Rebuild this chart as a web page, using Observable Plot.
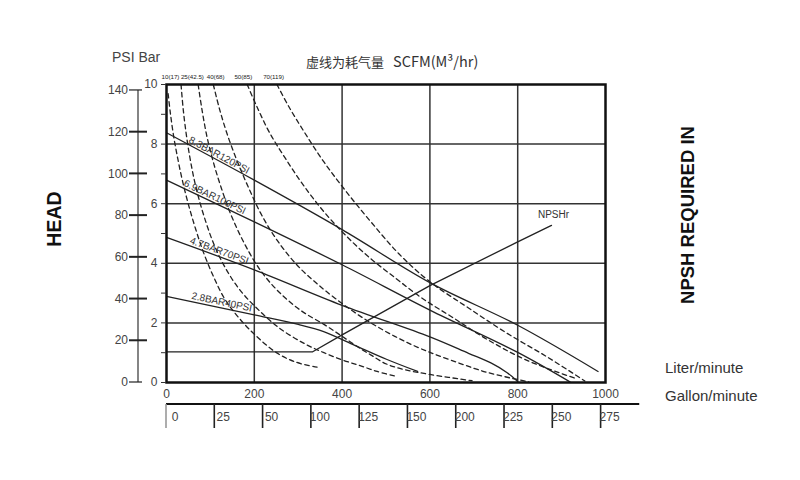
<!DOCTYPE html>
<html><head><meta charset="utf-8">
<script src="https://cdn.jsdelivr.net/npm/d3@7"></script>
<script src="https://cdn.jsdelivr.net/npm/@observablehq/plot@0.6"></script>
<style>
body{margin:0;background:#fff;}
#wrap{position:relative;width:800px;height:480px;font-family:"Liberation Sans",Arial,sans-serif;color:#333;overflow:hidden;}
.t{position:absolute;white-space:nowrap;line-height:1;}
.rot{transform:translate(-50%,-50%) rotate(-90deg);font-weight:bold;color:#111;}
</style></head><body>
<div id="wrap">
  <div class="t" style="left:112px;top:50px;font-size:14px;color:#444;">PSI Bar</div>
  <div class="t" style="left:306px;top:54px;color:#333;"><span style="font-family:'Noto Sans CJK SC';font-size:13px;">虚线为耗气量</span><span style="font-family:'Noto Sans CJK SC';font-size:14.5px;margin-left:9px;">SCFM(M³/hr)</span></div>
  <div class="t rot" style="left:55px;top:219px;font-size:19.5px;">HEAD</div>
  <div class="t rot" style="left:688px;top:215px;font-size:18.5px;">NPSH REQUIRED IN</div>
  <div class="t" style="left:665px;top:360px;font-size:15px;color:#333;">Liter/minute</div>
  <div class="t" style="left:665px;top:388px;font-size:15px;color:#333;">Gallon/minute</div>
  <div id="chart" style="position:absolute;left:0;top:0;"></div>
</div>
<script>
// ---- data (x: liter/minute, y: bar) ----
const xTicks = [0, 200, 400, 600, 800, 1000];
const yTicks = [0, 1, 2, 3, 4, 5, 6, 7, 8, 9, 10];
const psiTicks = [0, 20, 40, 60, 80, 100, 120, 140];
const gallonLabels = ["0", "25", "50", "100", "125", "150", "200", "225", "250", "275"];
const scfmLabels = ["10(17)", "25(42.5)", "40(68)", "50(85)", "70(119)"];
const scfmTickX = [9, 59, 112, 175, 244];
const pressureNames = ["8.3BAR120PSI", "6.9BAR100PSI", "4.7BAR70PSI", "2.8BAR40PSI"];

const psi120 = [[0,8.38],[200,6.79],[400,5.13],[600,3.35],[800,1.92],[983,0.37]];
const psi100 = [[0,6.79],[200,5.39],[400,3.95],[600,2.43],[800,1.01],[919,0.02]];
const psi70  = [[0,4.87],[200,3.78],[400,2.59],[600,1.53],[688,0.98],[740,0.65],[776,0.33],[800,0.03]];
const psi40  = [[0,2.89],[200,2.27],[300,1.95],[358,1.71],[430,1.24],[501,0.78],[572,0.37]];
const npshr  = [[0,1.03],[333,1.03],[400,1.6],[600,3.25],[800,4.72],[877,5.27]];

const air1 = [[3.7,9.69],[8.8,9.04],[16.2,8.27],[25.7,7.51],[36.8,6.74],[50,5.97],[66.2,5.16],[84.6,4.35],[106.6,3.57],[132.4,2.81],[165.4,2.16],[205.8,1.54],[249.5,1.01],[293.2,0.69],[344.1,0.51]];
const air2 = [[33.1,10],[38.2,9.15],[45.6,8.27],[55.1,7.4],[67.6,6.52],[84.6,5.62],[106.6,4.69],[132.4,3.89],[165.4,3.14],[205.8,2.49],[256.7,1.83],[314.9,1.3],[358.6,1.0],[402,0.75],[444,0.55],[480,0.37],[519,0.22]];
const air3 = [[72.1,10],[80.9,9.15],[91.9,8.27],[106.6,7.4],[125,6.52],[147.1,5.62],[176.5,4.69],[213.1,3.78],[256.7,3.03],[307.6,2.4],[358.6,1.95],[395,1.6],[430,1.25],[466,0.92],[501,0.62],[543,0.43],[600,0.27],[696,0.06]];
const air4 = [[106.6,10],[121.3,9.15],[139.7,8.27],[161.8,7.4],[187.5,6.52],[216.7,5.62],[253.1,4.75],[296.7,3.95],[344,3.3],[400,2.65],[460,2.05],[520,1.55],[580,1.13],[648,0.75],[728,0.35],[825,0.02]];
const air5 = [[183.8,10],[205.8,9.26],[234.9,8.38],[271.3,7.51],[311.3,6.63],[358.6,5.73],[409.2,4.92],[465.7,4.15],[522,3.5],[580,2.85],[650,2.2],[730,1.45],[820,0.75],[935,0.12]];
const air6 = [[251.6,10],[278.5,9.26],[314.9,8.38],[358.6,7.4],[409.2,6.41],[465.7,5.39],[529.3,4.32],[600,3.38],[688,2.5],[776,1.65],[868,0.85],[953,0.05]];

const PSI_TO_BAR = 0.07;

// ---- tables built from the arrays ----
const solidSeries = [psi120, psi100, psi70, psi40];
const solidRows = solidSeries.flatMap((s, i) => s.map(([x, y]) => ({x, y, name: pressureNames[i]})));
const airSeries = [air1, air2, air3, air4, air5, air6];
const airRows = airSeries.flatMap((s, i) => s.map(([x, y]) => ({x, y, name: "air" + i})));
const npshRows = npshr.map(([x, y]) => ({x, y}));

// label placement along each pressure line (position along the line in liter/minute)
const labelAt = [120, 110, 120, 126];
function interp(s, x) {
  for (let i = 1; i < s.length; i++) {
    if (x <= s[i][0]) { const [x0,y0] = s[i-1], [x1,y1] = s[i]; return y0 + (y1-y0)*(x-x0)/(x1-x0); }
  }
  return s[s.length-1][1];
}
const lineLabels = pressureNames.map((n, i) => {
  const s = solidSeries[i], x = labelAt[i];
  const slope = (interp(s, x + 20) - interp(s, x - 20)) / 40; // bar per liter
  return {name: n, x, y: interp(s, x), slope};
});

const W = 800, H = 480, mL = 166, mR = 195, mT = 84, mB = 98;
const pxPerX = (W - mL - mR) / 1000, pxPerY = (H - mT - mB) / 10;
lineLabels.forEach(d => { d.angle = Math.atan(-d.slope * pxPerY / pxPerX) * 180 / Math.PI; });

const plot = Plot.plot({
  width: W, height: H,
  marginLeft: mL, marginRight: mR, marginTop: mT, marginBottom: mB,
  style: {fontFamily: "Liberation Sans, Arial, sans-serif", fontSize: "12px", color: "#444", background: "transparent", overflow: "visible"},
  x: {domain: [0, 1000], label: null},
  y: {domain: [0, 10], label: null},
  marks: [
    Plot.gridX([200, 400, 600, 800], {stroke: "#333", strokeOpacity: 1, strokeWidth: 1.5}),
    Plot.gridY([2, 4, 6, 8], {stroke: "#333", strokeOpacity: 1, strokeWidth: 1.5}),
    Plot.line(airRows, {x: "x", y: "y", z: "name", stroke: "#222", strokeWidth: 1.3, strokeDasharray: "4.5,3.5", curve: "catmull-rom"}),
    Plot.line(solidRows, {x: "x", y: "y", z: "name", stroke: "#222", strokeWidth: 1.3, curve: "catmull-rom"}),
    Plot.line(npshRows, {x: "x", y: "y", stroke: "#222", strokeWidth: 1.3}),
    Plot.text(lineLabels, {x: "x", y: "y", text: "name", rotate: "angle", dy: -6, fontSize: 10, fill: "#333"}),
    Plot.text([npshRows[npshRows.length - 1]], {x: "x", y: "y", text: () => "NPSHr", dx: 2, dy: -11, fontSize: 10, fill: "#333"}),
    Plot.frame({stroke: "#111", strokeWidth: 2.5}),
    Plot.axisY(yTicks, {tickSize: 5, tickPadding: 4, tickFormat: d => d % 2 === 0 ? String(d) : "", fontSize: 12, stroke: "#333", label: null}),
    Plot.axisX(xTicks, {tickSize: 0, tickPadding: 7, tickFormat: d => String(d), fontSize: 12, label: null}),
    Plot.axisX(scfmTickX, {anchor: "top", tickSize: 0, tickPadding: 6, tickFormat: (d, i) => scfmLabels[i], fontSize: 6.2, letterSpacing: "-0.5px", fill: "#222", label: null})
  ]
});
document.getElementById("chart").appendChild(plot);

// ---- secondary scales drawn through Plot's own scales ----
const sx = plot.scale("x"), sy = plot.scale("y");
const svg = d3.select(plot);
// PSI axis (left of the bar axis)
const psiAxisX = mL - 28;
const gp = svg.append("g");
gp.append("line").attr("x1", psiAxisX).attr("x2", psiAxisX)
  .attr("y1", sy.apply(0)).attr("y2", sy.apply(psiTicks[psiTicks.length-1] * PSI_TO_BAR))
  .attr("stroke", "#333").attr("stroke-width", 1.2);
psiTicks.forEach(p => {
  const yy = sy.apply(p * PSI_TO_BAR);
  const end = p === 0 || p === 140;
  gp.append("line").attr("x1", psiAxisX - 9).attr("x2", psiAxisX + (end ? 4 : 9))
    .attr("y1", yy).attr("y2", yy).attr("stroke", "#222").attr("stroke-width", end ? 1.2 : 2);
  gp.append("text").attr("x", psiAxisX - 10).attr("y", yy).attr("dy", "0.35em")
    .attr("text-anchor", "end").attr("font-size", 12).attr("fill", "#444").text(p);
});
// Gallon/minute table under the liter axis
const cellStep = 110; // liter-scale width of one gallon cell
const tTop = H - mB + 22, tBot = tTop + 24;
const gt = svg.append("g");
gt.append("line").attr("x1", sx.apply(0)).attr("x2", sx.apply(cellStep * (gallonLabels.length - 0.2)))
  .attr("y1", tTop).attr("y2", tTop).attr("stroke", "#111").attr("stroke-width", 2);
gallonLabels.forEach((g, i) => {
  const xx = sx.apply(i * cellStep);
  gt.append("line").attr("x1", xx).attr("x2", xx).attr("y1", tTop).attr("y2", tBot)
    .attr("stroke", i === 0 ? "#999" : "#222").attr("stroke-width", 1.6);
  gt.append("text").attr("x", xx + 9).attr("y", (tTop + tBot) / 2 + 1).attr("dy", "0.35em")
    .attr("font-size", 12).attr("fill", "#444").text(g);
});
</script>
</body></html>
